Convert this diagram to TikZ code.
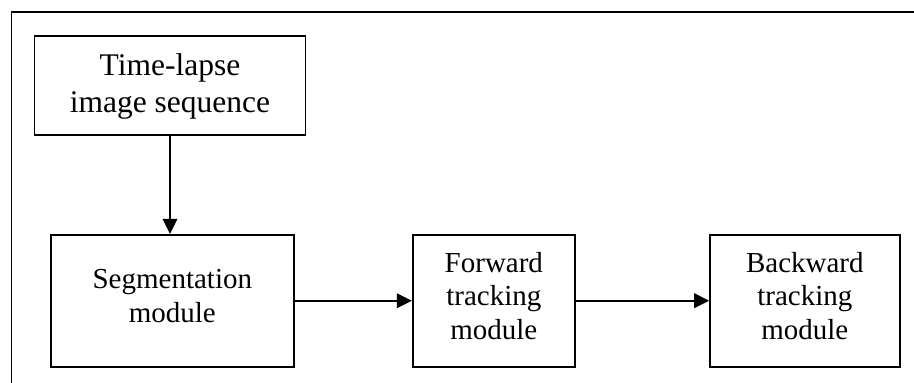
\documentclass[tikz,border=0pt]{standalone}
\usepackage{fontspec}
\setmainfont{Liberation Serif}
\usetikzlibrary{arrows.meta}
\newcommand{\topst}{\rule[-7pt]{0pt}{32pt}}
\newcommand{\botst}{\rule[-11.5pt]{0pt}{33pt}}
\begin{document}
\begin{tikzpicture}[x=1pt,y=-1pt,
  box/.style={draw=black,line width=1.6pt,inner sep=0pt,align=center,fill=white},
  topbox/.style={box,font=\fontsize{31.5}{37}\selectfont},
  botbox/.style={box,font=\fontsize{29}{33.5}\selectfont},
  arr/.style={line width=1.7pt,-{Triangle[length=15pt,width=14.5pt]}}]
\useasboundingbox (0,0) rectangle (914,383);
\fill[white] (0,0) rectangle (914,383);
\draw[line width=1.5pt] (11.3,383) -- (11.3,12) -- (914,12);
\node[topbox,minimum width=271pt,minimum height=99.3pt] (b1) at (170,85.35)
  {\topst Time-lapse\\\topst image sequence};
\node[botbox,minimum width=243.3pt,minimum height=132pt] (b2) at (172.35,300.7)
  {\botst Segmentation\\\botst module};
\node[botbox,minimum width=162.3pt,minimum height=132pt] (b3) at (493.85,300.7)
  {\botst Forward\\\botst tracking\\\botst module};
\node[botbox,minimum width=189.7pt,minimum height=132pt] (b4) at (804.85,300.7)
  {\botst Backward\\\botst tracking\\\botst module};
\draw[arr] (b1.south) -- (b1.south |- b2.north);
\draw[arr] (b2.east) -- (b3.west);
\draw[arr] (b3.east) -- (b4.west);
\end{tikzpicture}
\end{document}
